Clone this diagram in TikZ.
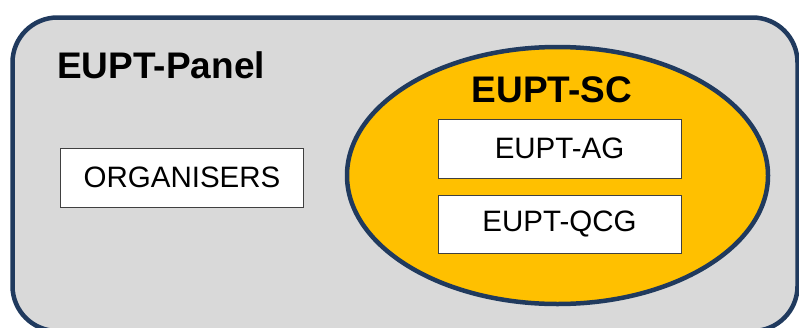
\documentclass[tikz,border=0pt]{standalone}
\usepackage{fontspec}
\setmainfont{Liberation Sans}
\definecolor{panelgray}{HTML}{D9D9D9}
\definecolor{paneledge}{HTML}{203A5E}
\definecolor{scyellow}{HTML}{FFC000}
\definecolor{boxedge}{HTML}{404040}
\tikzset{
  groupbox/.style={draw=boxedge, line width=1pt, fill=white, inner sep=0pt,
    minimum width=243pt, minimum height=59pt, font=\fontsize{29.5}{32}\selectfont},
  grouptitle/.style={anchor=base west, inner sep=0pt, font=\fontsize{37}{40}\selectfont\bfseries}
}
\begin{document}
\begin{tikzpicture}[x=1pt,y=-1pt]
    \useasboundingbox (0,0) rectangle (799,327);
    \begin{scope}
        \clip (0,0) rectangle (799,327);
        % panel
        \draw[paneledge, line width=4.5pt, fill=panelgray, rounded corners=45pt]
            (12.5,17.5) rectangle (797.5,331);
        % steering committee
        \draw[paneledge, line width=4.5pt, fill=scyellow]
            (557.5,175.5) ellipse [x radius=210.5, y radius=128.5];
    \end{scope}
    \node[grouptitle] (paneltitle) at (57,78) {EUPT-Panel};
    \node[grouptitle, anchor=base, font=\fontsize{37}{40}\selectfont\bfseries] (sctitle) at (552,102.5) {EUPT-SC};
    \node[groupbox] (organisers) at (182,177.5) {ORGANISERS};
    \node[groupbox] (ag) at (559.5,148.5) {EUPT-AG};
    \node[groupbox, minimum height=58pt] (qcg) at (559.5,224) {EUPT-QCG};
\end{tikzpicture}
\end{document}
